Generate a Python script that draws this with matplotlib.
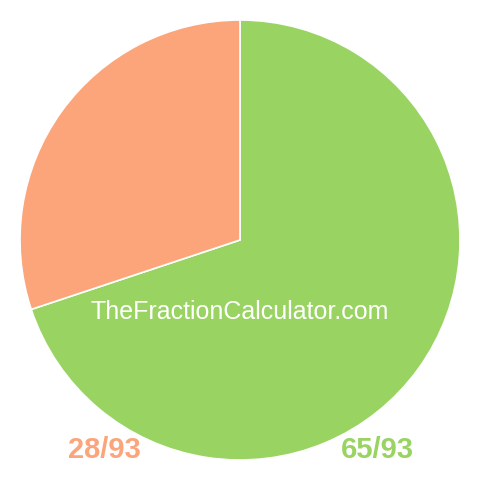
import matplotlib
matplotlib.use("Agg")
import matplotlib.pyplot as plt

labels = ["65/93", "28/93"]
values = [65, 28]
colors = ["#99d462", "#fca57b"]

fig = plt.figure(figsize=(4.8, 4.8), dpi=100)
ax = fig.add_axes([0, 0, 1, 1])
ax.pie(values, colors=colors, startangle=90, counterclock=False, radius=1.0,
       wedgeprops=dict(edgecolor="white", linewidth=1.2))
lim = 240 / 220
ax.set_xlim(-lim, lim)
ax.set_ylim(-lim, lim)
ax.set_aspect("equal")
ax.axis("off")

ax.text(0, -0.327, "TheFractionCalculator.com", color="white", fontsize=18,
        family="Liberation Sans", ha="center", va="center")
ax.text(-0.616, -0.955, labels[1], color=colors[1], fontsize=21, fontweight="bold",
        family="Liberation Sans", ha="center", va="center")
ax.text(0.623, -0.955, labels[0], color=colors[0], fontsize=21, fontweight="bold",
        family="Liberation Sans", ha="center", va="center")

fig.savefig("out.png", dpi=100)
